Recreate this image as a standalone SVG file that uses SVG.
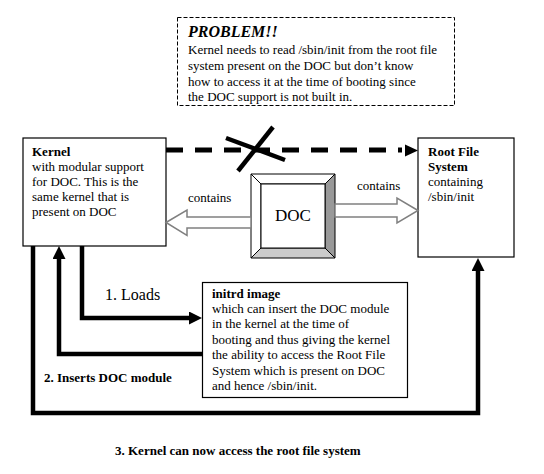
<svg xmlns="http://www.w3.org/2000/svg" width="544" height="474" viewBox="0 0 544 474">
<style>
text{font-family:"Liberation Serif","Times New Roman",serif;font-size:13px;fill:#000}
.b{font-weight:bold}
.box{fill:#fff;stroke:#000;stroke-width:1.2}
.thick{fill:none;stroke:#000;stroke-width:4.5}
.hollow{fill:#fff;stroke:#808080;stroke-width:1.5}
.bev{stroke:#000;stroke-width:1}
</style>
<defs>
<marker id="ah" markerUnits="userSpaceOnUse" markerWidth="14" markerHeight="14" refX="3" refY="6.5" orient="auto">
<path d="M0,0 L13,6.5 L0,13 z" fill="#000"/>
</marker>
</defs>
<rect width="544" height="474" fill="#fff"/>

<g id="problem">
<rect x="177.5" y="17.5" width="277" height="88" fill="#fff" stroke="#000" stroke-width="1" stroke-dasharray="4 2"/>
<text x="188" y="37" class="b" font-style="italic" style="font-size:16px">PROBLEM!!</text>
<text x="188" y="54">Kernel needs to read /sbin/init from the root file</text>
<text x="188" y="70">system present on the DOC but don’t know</text>
<text x="188" y="86">how to access it at the time of booting  since</text>
<text x="188" y="101">the DOC support is not built in.</text>
</g>

<g id="kernel">
<rect class="box" x="23" y="138" width="143" height="108"/>
<text x="32" y="156" class="b">Kernel</text>
<text x="32" y="171">with modular support</text>
<text x="32" y="186">for DOC. This is the</text>
<text x="32" y="201">same kernel that is</text>
<text x="32" y="216">present on DOC</text>
</g>

<g id="rootfs">
<rect class="box" x="418" y="138" width="96" height="119"/>
<text x="428" y="156" class="b">Root File</text>
<text x="428" y="171" class="b">System</text>
<text x="428" y="186">containing</text>
<text x="428" y="201">/sbin/init</text>
</g>

<g id="doc">
<polygon class="bev" points="251,174 335,174 325,184 261,184" fill="#fff"/>
<polygon class="bev" points="251,174 261,184 261,248 251,258" fill="#fff"/>
<polygon class="bev" points="335,174 335,258 325,248 325,184" fill="#999"/>
<polygon class="bev" points="251,258 335,258 325,248 261,248" fill="#ccc"/>
<rect x="261" y="184" width="64" height="64" fill="#fff" stroke="#000" stroke-width="1"/>
<text x="293" y="221" text-anchor="middle" style="font-size:17px">DOC</text>
</g>

<g id="initrd">
<rect class="box" x="202.5" y="282.5" width="205" height="115"/>
<text x="212" y="298" class="b">initrd image</text>
<text x="212" y="313">which can insert the DOC module</text>
<text x="212" y="328">in the kernel at the time of</text>
<text x="212" y="343.5">booting and thus giving the kernel</text>
<text x="212" y="359">the ability to access the Root File</text>
<text x="212" y="374.5">System which is present on DOC</text>
<text x="212" y="390">and hence /sbin/init.</text>
</g>

<g id="connectors">
<path d="M166,150 H402" fill="none" stroke="#000" stroke-width="5" stroke-dasharray="17 12"/>
<path d="M405,144.5 L418,150.5 L405,156.5 z" fill="#000"/>
<line x1="273" y1="127" x2="238" y2="171" stroke="#000" stroke-width="4.5"/>
<line x1="226" y1="138" x2="285" y2="160" stroke="#000" stroke-width="4.5"/>

<polygon class="hollow" points="166,222.5 187,210 187,217 251,217 251,228 187,228 187,235.5"/>
<polygon class="hollow" points="418,210.5 397,198 397,204 335,204 335,217 397,217 397,223"/>

<path class="thick" d="M82,246 V318 H192" marker-end="url(#ah)"/>
<path class="thick" d="M202,354 H59 V256" marker-end="url(#ah)"/>
<path class="thick" d="M33,246 V413 H478 V268" marker-end="url(#ah)"/>
</g>

<g id="labels">
<text x="188" y="202">contains</text>
<text x="357" y="190">contains</text>
<text x="105" y="300" style="font-size:16px">1. Loads</text>
<text x="44" y="382" class="b">2. Inserts DOC module</text>
<text x="115" y="455" class="b">3. Kernel can now access the root file system</text>
</g>
</svg>
